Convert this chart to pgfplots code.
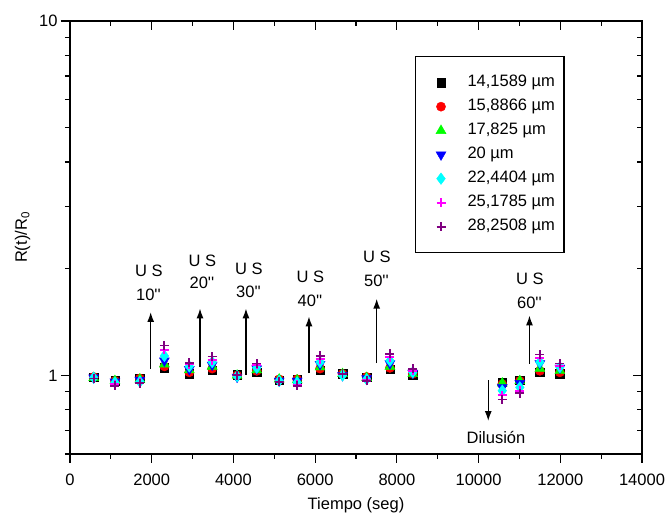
\documentclass[border=0pt]{standalone}
\usepackage{fontspec}
\setmainfont{Liberation Sans}
\usepackage{pgfplots}
\usepackage{pgfplotstable}
\pgfplotsset{compat=1.18}
\usetikzlibrary{arrows.meta}
\definecolor{cgreen}{RGB}{0,255,0}
\definecolor{cblue}{RGB}{0,0,255}
\definecolor{ccyan}{RGB}{0,255,255}
\definecolor{cmag}{RGB}{255,0,255}
\definecolor{cpur}{RGB}{128,0,128}
\definecolor{cred}{RGB}{255,0,0}

\pgfplotstableread{
t     s1    s2    s3    s4    s5    s6    s7
580   0.990 0.990 0.985 0.985 0.985 0.980 0.980
1100  0.965 0.965 0.965 0.960 0.955 0.945 0.935
1710  0.980 0.980 0.975 0.970 0.960 0.955 0.950
2310  1.050 1.060 1.075 1.100 1.135 1.180 1.215
2920  1.012 1.020 1.035 1.040 1.060 1.075 1.085
3480  1.035 1.045 1.060 1.070 1.090 1.105 1.130
4090  1.005 1.000 1.000 0.990 0.995 1.000 1.000
4570  1.020 1.030 1.035 1.045 1.050 1.070 1.080
5120  0.970 0.975 0.975 0.965 0.965 0.960 0.960
5560  0.975 0.975 0.970 0.965 0.955 0.940 0.935
6120  1.035 1.045 1.055 1.075 1.090 1.110 1.135
6670  1.010 1.010 1.010 1.000 1.000 1.010 1.010
7260  0.990 0.990 0.985 0.980 0.975 0.970 0.965
7830  1.040 1.050 1.060 1.080 1.100 1.125 1.150
8390  1.000 1.010 1.010 1.015 1.020 1.030 1.045
10580 0.955 0.945 0.950 0.925 0.905 0.880 0.855
11010 0.970 0.965 0.965 0.950 0.925 0.905 0.890
11500 1.022 1.030 1.045 1.080 1.090 1.120 1.145
11990 1.010 1.020 1.030 1.050 1.055 1.065 1.080
}\datatable

\begin{document}
\begin{tikzpicture}[font=\fontsize{16.5}{19}\selectfont]
\begin{axis}[
  at={(0,0)}, anchor=south west,
  width=572pt, height=433pt, scale only axis,
  xmin=0, xmax=14000, ymin=0.6, ymax=10, ymode=log,
  axis line style={line width=1.2pt},
  xtick={0,2000,...,14000}, minor xtick={1000,3000,...,13000},
  ytick={1,10}, minor ytick={0.6,0.7,0.8,0.9,2,3,4,5,6,7,8,9},
  major tick length=9pt, minor tick length=5pt,
  every tick/.style={line width=1.2pt, black},
  scaled x ticks=false,
  /pgf/number format/assume math mode=true,
  xtick pos=bottom, ytick pos=left, tick align=outside,
  xticklabel={\pgfmathprintnumber[fixed,1000 sep={}]{\tick}},
  xticklabel style={yshift=-7pt},
  yticklabels={1,10},
  xlabel={Tiempo (seg)},
  ylabel={R(t)/R\textsubscript{0}},
  every axis x label/.style={at={(axis description cs:0.5,-0.118)}, anchor=center},
  every axis y label/.style={at={(axis description cs:-0.083,0.5)}, rotate=90, anchor=center},
  legend style={at={(0.603,0.919)}, anchor=north west, draw=black, line width=1.2pt,
     inner xsep=9pt, inner ysep=18pt, row sep=8pt,
     nodes={inner sep=0pt, text height=12pt, text depth=4pt},
     font=\fontsize{16.5}{19}\selectfont},
  legend cell align=left,
  legend image code/.code={%
    \path[draw=none,fill=none] (-16.5pt,-6pt) rectangle (26.5pt,6pt);
    \draw[#1] plot coordinates {(0pt,0pt)};},
]
\addplot[only marks, mark=square*, mark size=4.2pt, color=black, mark options={line width=0.4pt}] table[x=t,y=s1]{\datatable};
\addlegendentry{14,1589 µm}
\addplot[only marks, mark=*, mark size=4.6pt, color=cred, mark options={line width=0.4pt}] table[x=t,y=s2]{\datatable};
\addlegendentry{15,8866 µm}
\addplot[only marks, mark=triangle*, mark size=5.8pt, color=cgreen, mark options={line width=0.4pt}] table[x=t,y=s3]{\datatable};
\addlegendentry{17,825 µm}
\addplot[only marks, mark=triangle*, mark size=5.8pt, color=cblue, mark options={line width=0.4pt, rotate=180}] table[x=t,y=s4]{\datatable};
\addlegendentry{20 µm}
\addplot[only marks, mark=diamond*, mark size=5.8pt, color=ccyan, mark options={line width=0.4pt}] table[x=t,y=s5]{\datatable};
\addlegendentry{22,4404 µm}
\addplot[only marks, mark=+, mark size=4.5pt, color=cmag, mark options={line width=1.8pt}] table[x=t,y=s6]{\datatable};
\addlegendentry{25,1785 µm}
\addplot[only marks, mark=+, mark size=4.5pt, color=cpur, mark options={line width=1.8pt}] table[x=t,y=s7]{\datatable};
\addlegendentry{28,2508 µm}

\draw[-{Latex[length=10pt,width=7pt]}, line width=1.5pt] (axis cs:1975,1.044) -- (axis cs:1975,1.51);
\draw[-{Latex[length=10pt,width=7pt]}, line width=1.5pt] (axis cs:3182,1.055) -- (axis cs:3182,1.546);
\draw[-{Latex[length=10pt,width=7pt]}, line width=1.5pt] (axis cs:4307,1.005) -- (axis cs:4307,1.546);
\draw[-{Latex[length=10pt,width=7pt]}, line width=1.5pt] (axis cs:5849,1.015) -- (axis cs:5849,1.468);
\draw[-{Latex[length=10pt,width=7pt]}, line width=1.5pt] (axis cs:7506,1.083) -- (axis cs:7506,1.647);
\draw[-{Latex[length=10pt,width=7pt]}, line width=1.5pt] (axis cs:11246,1.079) -- (axis cs:11246,1.477);
\draw[-{Latex[length=10pt,width=7pt]}, line width=1.5pt] (axis cs:10237,0.968) -- (axis cs:10237,0.743);
\node at (axis cs:1933,1.967) {U S};
\node at (axis cs:1920,1.693) {10\textquotesingle\textquotesingle};
\node at (axis cs:3243,2.103) {U S};
\node at (axis cs:3230,1.82) {20\textquotesingle\textquotesingle};
\node at (axis cs:4381,1.993) {U S};
\node at (axis cs:4370,1.72) {30\textquotesingle\textquotesingle};
\node at (axis cs:5886,1.895) {U S};
\node at (axis cs:5875,1.628) {40\textquotesingle\textquotesingle};
\node at (axis cs:7513,2.159) {U S};
\node at (axis cs:7500,1.847) {50\textquotesingle\textquotesingle};
\node at (axis cs:11258,1.876) {U S};
\node at (axis cs:11245,1.601) {60\textquotesingle\textquotesingle};
\node at (axis cs:10426,0.668) {Dilusión};
\end{axis}
\begin{axis}[
  at={(0,0)}, anchor=south west,
  width=572pt, height=433pt, scale only axis,
  xmin=0, xmax=14000, ymin=0.6, ymax=10, ymode=log,
  axis line style={line width=1.2pt},
  xtick={0,2000,...,14000}, minor xtick={1000,3000,...,13000},
  ytick={1,10}, minor ytick={0.6,0.7,0.8,0.9,2,3,4,5,6,7,8,9},
  major tick length=9pt, minor tick length=5pt,
  every tick/.style={line width=1.2pt, black},
  scaled x ticks=false, scaled y ticks=false,
  xtick pos=top, ytick pos=right, tick align=inside,
  xticklabels={}, yticklabels={},
]
\end{axis}
\pgfresetboundingbox
\useasboundingbox (-70pt,-62pt) rectangle (595pt,454pt);
\end{tikzpicture}
\end{document}
